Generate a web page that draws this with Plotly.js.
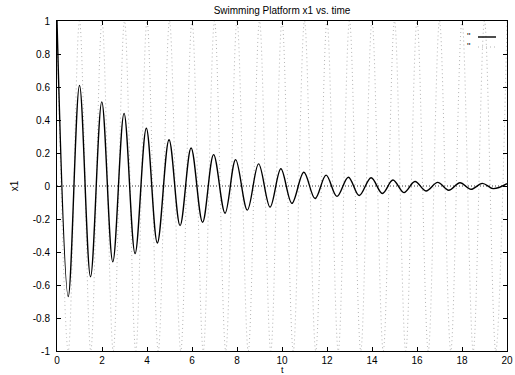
<!DOCTYPE html>
<html><head><meta charset="utf-8">
<script src="https://cdn.plot.ly/plotly-3.0.1.min.js"></script>
<style>html,body{margin:0;padding:0;background:#fff}#chart{width:515px;height:375px}</style>
</head><body><div id="chart"></div>
<script>
// Damped response x1(t): extremes
const timeSolid = [0,0.50,1.00,1.49,1.99,2.48,2.98,3.47,3.97,4.46,4.98,5.47,5.96,6.47,6.96,7.47,7.94,8.46,8.96,9.47,9.95,10.44,10.97,11.47,11.96,12.44,12.95,13.43,13.96,14.46,14.93,15.42,15.91,16.40,16.92,17.41,17.91,18.40,18.90,19.39,20.0];
const x1Solid = [1.0,-0.67,0.61,-0.55,0.51,-0.46,0.44,-0.41,0.35,-0.345,0.28,-0.24,0.23,-0.22,0.19,-0.165,0.16,-0.146,0.134,-0.128,0.105,-0.105,0.083,-0.076,0.066,-0.063,0.053,-0.058,0.05,-0.045,0.036,-0.04,0.027,-0.03,0.022,-0.026,0.02,-0.02,0.016,-0.016,0.014];
// Undamped reference (dotted grey): extremes
const timeRef = [0,0.5,1,1.5,2,2.5,3,3.5,4,4.5,5,5.5,6,6.5,7,7.5,8,8.5,9,9.5,10,10.5,11,11.5,12,12.5,13,13.5,14,14.5,15,15.5,16,16.5,17,17.5,18,18.5,19,19.5,20];
const x1Ref = [1,-1,1,-1,1,-1,1,-1,1,-1,1,-1,1,-1,1,-1,1,-1,1,-1,1,-1,1,-1,1,-1,1,-1,1,-1,1,-1,1,-1,1,-1,1,-1,1,-1,1];
const xTickVals = [0,2,4,6,8,10,12,14,16,18,20];
const xTickText = ['0','2','4','6','8','10','12','14','16','18','20'];
const yTickVals = [-1,-0.8,-0.6,-0.4,-0.2,0,0.2,0.4,0.6,0.8,1];
const yTickText = ['-1','-0.8','-0.6','-0.4','-0.2','0','0.2','0.4','0.6','0.8','1'];
const chartTitle = 'Swimming Platform x1 vs. time';
const xTitle = 't';
const yTitle = 'x1';
const legendLabels = ["''", "''"];

const FONT = '"Liberation Sans", Arial, Helvetica, sans-serif';
const traces = [
  {x: timeRef, y: x1Ref, mode: 'lines', name: legendLabels[1],
   line: {color: '#b4b4b4', width: 1, dash: '1px,3px', shape: 'spline', smoothing: 1}},
  {x: timeSolid, y: x1Solid, mode: 'lines', name: legendLabels[0],
   line: {color: '#000', width: 1.4, shape: 'spline', smoothing: 1}}
];
const axisCommon = {
  showgrid: false, zeroline: false, showline: true, linecolor: '#000', linewidth: 1,
  mirror: 'ticks', ticks: 'inside', ticklen: 4, tickwidth: 1, tickcolor: '#000',
  tickfont: {family: FONT, size: 10, color: '#000'}, tickmode: 'array', automargin: false
};
const layout = {
  width: 515, height: 375,
  margin: {l: 57, r: 8, t: 21, b: 24},
  paper_bgcolor: '#fff', plot_bgcolor: '#fff',
  showlegend: false,
  font: {family: FONT, size: 10, color: '#000'},
  title: {text: chartTitle, font: {family: FONT, size: 10, color: '#000'},
          x: 0.5, xref: 'paper', xanchor: 'center', y: 1 - 10/375, yref: 'container', yanchor: 'middle'},
  xaxis: Object.assign({}, axisCommon, {range: [0, 20], tickvals: xTickVals, ticktext: xTickText,
          ticklabelstandoff: 0}),
  yaxis: Object.assign({}, axisCommon, {range: [-1, 1], tickvals: yTickVals, ticktext: yTickText,
          ticklabelstandoff: 4,
          title: {text: yTitle, font: {family: FONT, size: 10, color: '#000'}, standoff: 12}}),
  shapes: [
    {type: 'line', xref: 'x', yref: 'y', x0: 0, x1: 20, y0: 0, y1: 0, layer: 'below',
     line: {color: '#333', width: 1, dash: '1px,2px'}},
    {type: 'line', xref: 'paper', yref: 'paper', x0: (478-57)/450, x1: (496-57)/450,
     y0: (351-37)/330, y1: (351-37)/330, line: {color: '#000', width: 1.4}},
    {type: 'line', xref: 'paper', yref: 'paper', x0: (478-57)/450, x1: (496-57)/450,
     y0: (351-47)/330, y1: (351-47)/330, line: {color: '#b4b4b4', width: 1, dash: '1px,3px'}}
  ],
  annotations: [
    {text: xTitle, xref: 'paper', yref: 'paper', x: 0.5, y: (351-370)/330,
     xanchor: 'center', yanchor: 'middle', showarrow: false, borderpad: 0,
     font: {family: FONT, size: 9, color: '#000'}},
    {text: legendLabels[0], xref: 'paper', yref: 'paper', x: (469-57)/450, y: (351-36)/330,
     xanchor: 'center', yanchor: 'middle', showarrow: false, font: {family: FONT, size: 9, color: '#000'}},
    {text: legendLabels[1], xref: 'paper', yref: 'paper', x: (469-57)/450, y: (351-46)/330,
     xanchor: 'center', yanchor: 'middle', showarrow: false, font: {family: FONT, size: 9, color: '#000'}}
  ]
};
Plotly.newPlot('chart', traces, layout, {staticPlot: true, displayModeBar: false});
</script>
</body></html>
